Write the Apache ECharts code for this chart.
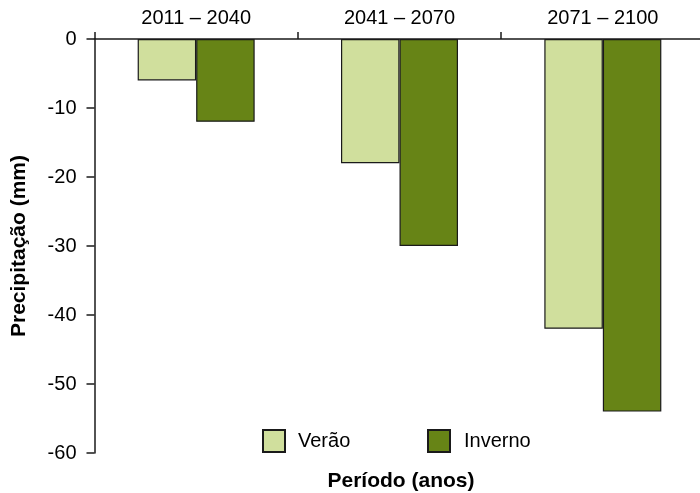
<!DOCTYPE html>
<html>
<head>
<meta charset="utf-8">
<script src="https://cdn.jsdelivr.net/npm/echarts@6/dist/echarts.min.js"></script>
<style>
  html, body { margin: 0; padding: 0; background: #fff; }
  #chart { width: 700px; height: 493px; }
</style>
</head>
<body>
<div id="chart"></div>
<script>
// Precipitation change per period (mm)
const periods = ['2011 – 2040', '2041 – 2070', '2071 – 2100'];
const verao = [-6, -18, -42];
const inverno = [-12, -30, -54];
const yTicks = { min: -60, max: 0, step: 10 };

const FONT = 'Liberation Sans, Arial, sans-serif';
const AXIS_COLOR = '#1a1a1a';
const TEXT_COLOR = '#000';

const legendText = { fontFamily: FONT, fontSize: 20, color: TEXT_COLOR };

const chart = echarts.init(document.getElementById('chart'));
chart.setOption({
  animation: false,
  backgroundColor: '#fff',
  grid: { left: 94.5, width: 610, top: 39, bottom: 40, containLabel: false, outerBoundsMode: 'none' },
  legend: [
    {
      data: ['Verão'],
      left: 262, top: 429, padding: 0,
      itemWidth: 22, itemHeight: 22,
      icon: 'rect',
      textStyle: Object.assign({ padding: [0, 0, 0, 8] }, legendText)
    },
    {
      data: ['Inverno'],
      left: 427, top: 429, padding: 0,
      itemWidth: 22, itemHeight: 22,
      icon: 'rect',
      textStyle: Object.assign({ padding: [0, 0, 0, 9] }, legendText)
    }
  ],
  xAxis: {
    type: 'category',
    position: 'top',
    data: periods,
    axisLine: { show: true, lineStyle: { color: AXIS_COLOR, width: 1.5 } },
    axisTick: { show: true, length: 7, lineStyle: { color: AXIS_COLOR, width: 1.5 } },
    axisLabel: { fontFamily: FONT, fontSize: 20, color: TEXT_COLOR, margin: 11 }
  },
  yAxis: {
    type: 'value',
    min: yTicks.min,
    max: yTicks.max,
    interval: yTicks.step,
    name: 'Precipitação (mm)',
    nameLocation: 'middle',
    nameRotate: 90,
    nameGap: 65,
    nameTextStyle: { fontFamily: FONT, fontSize: 21, fontWeight: 'bold', color: TEXT_COLOR },
    axisLine: { show: true, lineStyle: { color: AXIS_COLOR, width: 1.5 } },
    axisTick: { show: true, length: 8, lineStyle: { color: AXIS_COLOR, width: 1.5 } },
    axisLabel: { fontFamily: FONT, fontSize: 20, color: TEXT_COLOR, margin: 18 },
    splitLine: { show: false }
  },
  series: [
    {
      name: 'Verão',
      type: 'bar',
      data: verao,
      barWidth: 58.5,
      barGap: '0%',
      itemStyle: { color: '#d0df9d', borderColor: '#1a1a1a', borderWidth: 1.2 }
    },
    {
      name: 'Inverno',
      type: 'bar',
      data: inverno,
      barWidth: 58.5,
      barGap: '0%',
      itemStyle: { color: '#678416', borderColor: '#1a1a1a', borderWidth: 1.2 }
    }
  ],
  graphic: [
    {
      type: 'text',
      x: 401,
      y: 471,
      style: {
        text: 'Período (anos)',
        align: 'center',
        font: 'bold 21px ' + FONT,
        fill: TEXT_COLOR
      }
    }
  ]
});
</script>
</body>
</html>
